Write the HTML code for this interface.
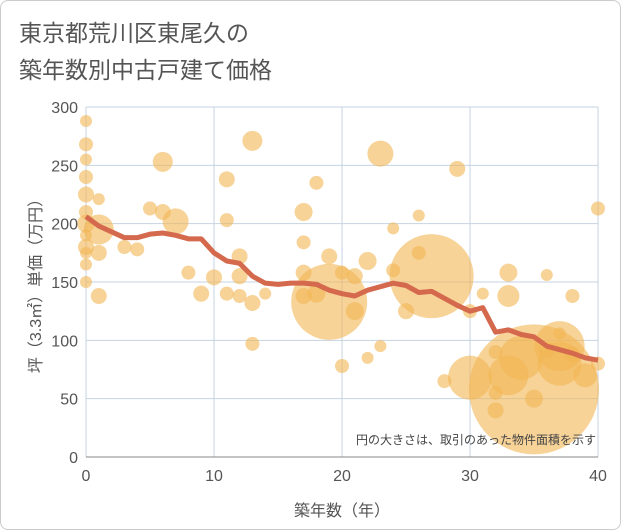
<!DOCTYPE html>
<html><head><meta charset="utf-8">
<style>
body{margin:0;background:#fff;font-family:"Liberation Sans","Noto Sans CJK JP",sans-serif;}
#wrap{position:relative;width:619px;height:528px;border:1px solid #ccc;border-radius:8px;overflow:hidden;background:#fff}
</style></head><body>
<div id="wrap">
<svg id="chart" width="621" height="530">
<text x="18" y="40" font-size="23" fill="#555">東京都荒川区東尾久の</text>
<text x="18" y="77" font-size="23" fill="#555">築年数別中古戸建て価格</text>
<g id="grid"></g><g id="bubbles"></g><g id="trend"></g><g id="axes"></g>
<text x="595" y="443" font-size="12" fill="#444" text-anchor="end">円の大きさは、取引のあった物件面積を示す</text>
<text x="341" y="515" font-size="16" fill="#555" text-anchor="middle">築年数（年）</text>
<text transform="translate(40,281) rotate(-90)" font-size="16" fill="#555" text-anchor="middle">坪（3.3㎡）単価（万円）</text>
</svg></div>
<script>
const xTicks=[0,10,20,30,40];
const yTicks=[0,50,100,150,200,250,300];
const trendX=[0,1,2,3,4,5,6,7,8,9,10,11,12,13,14,15,16,17,18,19,20,21,22,23,24,25,26,27,28,29,30,31,32,33,34,35,36,37,38,39,40];
const trendY=[206,198,193,188,188,191,192,190,187,187,175,168,166,155,149,148,149,149,148,143,140,138,143,146,149,147,141,142,136,130,125,128,107,109,105,103,95,92,89,85,83];
const bubbleX=[0,0,0,0,0,0,0,0,0,0,0,0,1,1,1,1,3,4,5,6,6,7,8,9,10,11,11,11,12,12,12,13,13,13,14,17,17,17,17,18,18,19,19,20,20,21,21,22,22,23,23,24,24,25,26,26,27,28,29,30,30,31,32,32,32,33,33,33,34,35,35,36,36,37,37,37,38,38,39,40,40];
const bubbleY=[288,268,255,240,225,210,200,190,180,175,165,150,221,195,175,138,180,178,213,253,210,202,158,140,154,238,203,140,172,155,138,271,132,97,140,210,184,158,138,235,140,133,172,78,158,155,125,85,168,260,95,160,196,125,207,175,155,65,247,68,125,140,90,40,55,158,138,70,85,58,50,156,92,106,95,80,138,88,70,213,80];
const bubbleS=[6,7,6,7,8,7,9,6,8,6,6,6,6,15,8,8,7,7,7,10,8,13,7,8,8,8,7,7,8,8,7,10,8,7,6,9,7,8,8,7,9,38,8,7,7,8,9,6,9,13,6,7,6,8,6,7,42,7,8,22,7,6,7,8,7,9,11,20,22,65,9,6,8,6,25,22,7,8,12,7,7];
const X0=85,X1=597,Y0=456,Y1=106;
const sx=v=>X0+(v-0)/40*(X1-X0);
const sy=v=>Y0-(v/300)*(Y0-Y1);
const NS="http://www.w3.org/2000/svg";
function mk(t,a,p){const e=document.createElementNS(NS,t);for(const k in a)e.setAttribute(k,a[k]);p.appendChild(e);return e;}
const grid=document.getElementById('grid'),axes=document.getElementById('axes');
xTicks.forEach(t=>{
 const l=mk('line',{x1:sx(t),x2:sx(t),y1:Y1,y2:Y0,stroke:'#c5d3e0','stroke-width':1},grid);
 
 
 const tx=mk('text',{x:sx(t),y:Y0+24,'font-size':16,fill:'#555','text-anchor':'middle'},axes);
 tx.textContent=t;
 
 
});
yTicks.forEach(t=>{
 const l=mk('line',{x1:X0,x2:X1,y1:sy(t),y2:sy(t),stroke:'#c5d3e0','stroke-width':1},grid);
 
 
 const tx=mk('text',{x:X0-8,y:sy(t)+6,'font-size':16,fill:'#555','text-anchor':'end'},axes);
 tx.textContent=t;
 
 
});
const ax=mk('line',{x1:X0,x2:X1,y1:Y0,y2:Y0,stroke:'#888','stroke-width':1},axes);


const bg=document.getElementById('bubbles');
bubbleX.forEach((x,i)=>{
 const c=mk('circle',{cx:sx(x),cy:sy(bubbleY[i]),r:bubbleS[i],fill:'#f2b653','fill-opacity':0.6},bg);
 
 
});
const pts=trendX.map((x,i)=>sx(x)+','+sy(trendY[i])).join(' ');
const pl=mk('polyline',{points:pts,fill:'none',stroke:'#d4694e','stroke-width':5,'stroke-linejoin':'round'},document.getElementById('trend'));


</script>
</body></html>
